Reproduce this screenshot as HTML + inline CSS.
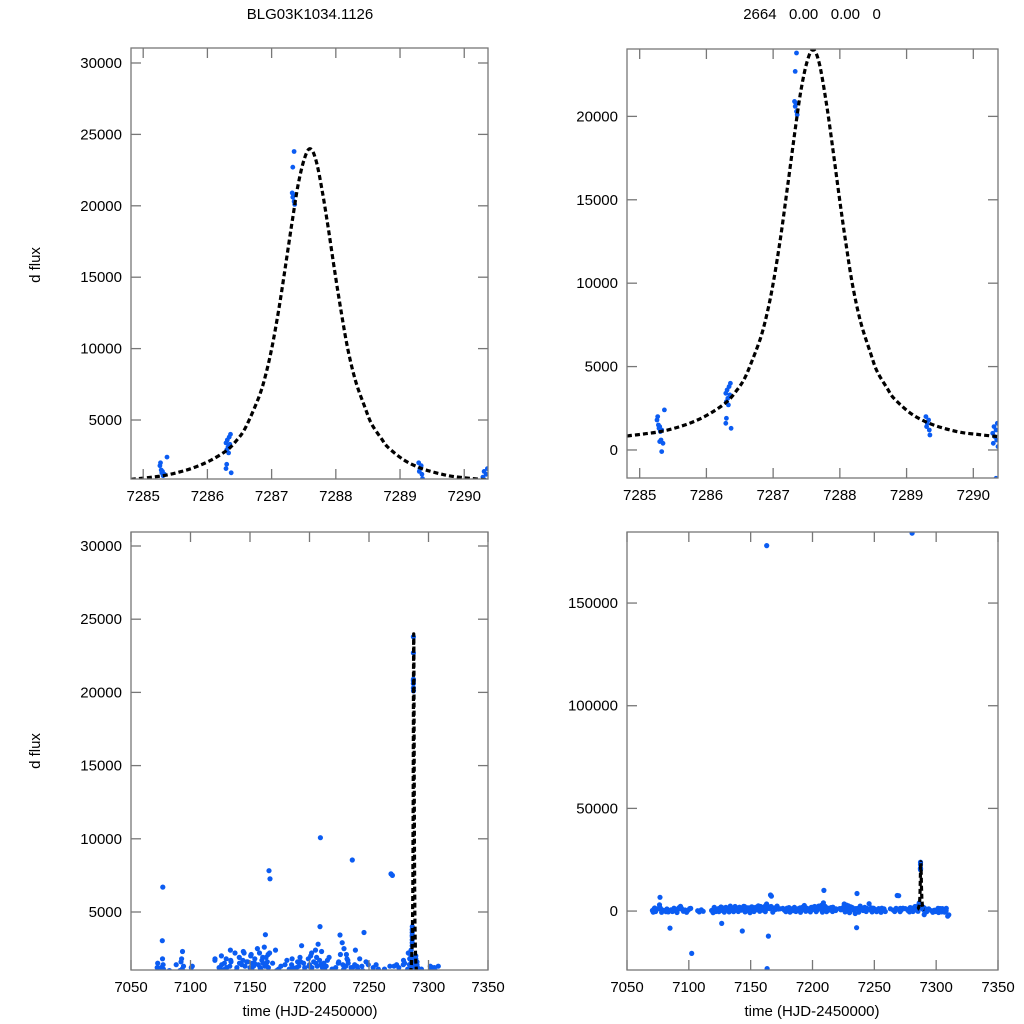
<!DOCTYPE html>
<html><head><meta charset="utf-8">
<style>
html,body{margin:0;padding:0;background:#fff;overflow:hidden;width:1024px;height:1024px;}
svg{display:block;font-family:"Liberation Sans",sans-serif;}
</style></head>
<body>
<svg id="chart" width="1024" height="1024" viewBox="0 0 1024 1024" xmlns="http://www.w3.org/2000/svg">
<text x="310" y="19" font-size="15" text-anchor="middle">BLG03K1034.1126</text>
<text x="812" y="19" font-size="15" text-anchor="middle" xml:space="preserve">2664   0.00   0.00   0</text>
<text x="0" y="0" font-size="15" text-anchor="middle" transform="translate(40,265) rotate(-90)">d flux</text>
<text x="0" y="0" font-size="15" text-anchor="middle" transform="translate(40,751) rotate(-90)">d flux</text>
<text x="310" y="1016" font-size="15" text-anchor="middle">time (HJD-2450000)</text>
<text x="812" y="1016" font-size="15" text-anchor="middle">time (HJD-2450000)</text>
</svg>
<script>
// ---- data: peak-zoom photometry ----
const peakTimes = [7285.37,7285.27,7285.26,7285.28,7285.30,7285.29,7285.33,7285.31,7285.32,7285.30,7285.35,7285.33,
 7286.36,7286.34,7286.31,7286.29,7286.35,7286.32,7286.30,7286.33,7286.30,7286.29,7286.37,
 7287.35,7287.33,7287.32,7287.34,7287.33,7287.35,7287.36,
 7289.29,7289.33,7289.31,7289.30,7289.34,7289.35,
 7290.36,7290.31,7290.34,7290.29,7290.32,7290.35,7290.30,7290.37,7290.34];
const peakFlux = [2400,2000,1800,1500,1400,1300,1200,1100,600,500,400,-100,
 4000,3800,3600,3400,3300,3100,2900,2700,1900,1600,1300,
 23800,22700,20900,20800,20600,20300,20100,
 2000,1800,1600,1400,1200,900,
 1600,1400,1200,1000,800,600,400,200,-1700];
// ---- data: full season photometry ----
const seasonTimes = [7070.5,7071.2,7072.4,7073.1,7074.0,7075.3,7076.3,7076.7,7077.2,7078.0,7079.1,7080.2,7081.5,7082.3,7083.4,7084.8,7085.6,7086.7,7088.0,7089.2,7090.4,7091.2,7092.5,7093.3,7094.1,7095.6,7097.0,7098.2,7099.5,7100.7,7102.3,
 7107.2,7108.5,7110.1,7111.6,
 7118.4,7119.6,7120.6,7121.8,7123.0,7124.3,7125.5,7126.2,7126.6,7127.5,7128.7,7130.4,7131.3,7132.6,7133.8,7135.0,7136.2,7137.4,7138.6,7140.0,7141.2,7142.4,7143.2,7144.4,7145.5,7146.6,7147.2,7148.3,7149.5,7150.6,7151.4,7152.7,7153.8,7155.0,7156.2,7157.3,7158.5,7159.6,7160.7,7161.8,7162.9,7163.0,7163.3,7164.0,7164.3,7165.2,7166.0,7166.8,7167.9,7169.0,7170.2,7171.4,7172.4,
 7177.3,7178.5,7179.4,7180.6,7181.8,7183.0,7184.2,7185.4,7186.6,7187.8,7189.2,7190.3,7191.5,7192.6,7193.4,7194.6,7195.8,7197.0,7198.3,7199.5,7200.6,7201.8,7203.0,7204.2,7205.3,7206.0,7207.2,7208.0,7208.8,7209.2,7209.5,7210.2,7211.4,7212.6,7213.8,7215.0,7216.2,7217.4,7218.8,
 7223.0,7224.2,7225.6,7226.4,7227.5,7228.7,7229.9,7231.0,7232.2,7233.3,7234.5,7235.7,7236.0,7236.2,7237.4,7238.6,7239.8,7241.0,7242.2,7243.4,7244.6,7245.8,7247.0,7248.2,7249.4,7250.6,7251.8,7253.0,7254.2,7255.4,7256.6,7257.8,7258.9,
 7265.3,7266.5,7267.6,7268.5,7269.0,7269.7,7270.8,7272.0,7273.2,
 7277.2,7278.4,7278.8,7279.6,7280.5,7281.3,7282.5,7283.6,7284.2,
 7291.3,7292.4,7296.2,7297.3,7298.5,7299.6,7300.8,7302.0,7302.6,7303.2,7304.4,7305.6,7306.8,7308.0,7308.2,7309.3,7310.2];
const seasonFlux = [300,-500,1500,-200,800,1200,3040,6700,1100,-600,400,200,-300,1000,-400,-8300,600,-200,1400,300,-700,1000,1800,2300,1300,-100,500,-600,400,1200,-20600,
 200,-400,600,-100,
 300,-800,1800,-200,600,-300,1100,1400,-6000,200,-500,1200,900,-400,1700,600,-300,2200,1000,-200,1500,400,-9700,2300,-400,900,1600,300,-800,2000,1100,-200,1500,700,2500,-100,1200,400,1900,-300,3450,178000,-28000,1300,-12200,2100,7820,7270,-500,1500,800,2400,1000,
 400,-300,1400,600,-500,1100,200,1800,-200,900,1200,-600,500,1600,2700,-100,1000,400,-400,1300,800,2200,-300,600,1500,1900,2800,-500,4000,10075,1400,2300,-300,1100,500,1700,-200,900,300,
 600,1500,3430,-400,2900,1100,-800,2100,1700,400,-1200,-8100,8550,1200,-500,2400,1300,300,1800,-200,1000,3600,500,-400,1400,700,-300,900,200,-600,500,1100,-200,
 400,-200,1300,7600,900,7500,-300,600,1400,
 300,-400,1400,800,184000,-200,1100,600,1800,
 500,-300,200,-600,400,-200,300,-700,1100,1200,-400,1000,-500,200,1300,-2500,-1800];
// additional season observations (dense baseline scatter)
const extraTimes = [7072.0,7076.5,7077.0,7092.0,7093.0,7101.5,7120.5,7124.0,7126.0,7128.5,7129.0,7130.0,7133.0,7133.5,7134.0,7139.0,7141.0,7143.0,7144.0,7145.0,7145.8,7148.0,7150.0,7151.0,7152.0,7153.0,7154.0,7157.0,7158.0,7159.0,7160.0,7161.0,7162.0,7162.5,7163.5,7164.5,7165.5,7166.5,
 7174.0,7176.0,7181.0,7185.0,7186.0,7188.0,7190.0,7191.0,7192.0,7195.0,7196.0,7199.0,7200.0,7201.0,7202.0,7203.5,7205.0,7206.5,7208.5,7210.8,7212.0,7214.0,7216.5,7219.0,7222.0,7224.5,7226.0,7228.0,7229.0,7230.5,7231.5,7232.5,7235.0,7238.0,7240.5,7244.0,7247.5,7253.5,7256.0,
 7263.0,7271.0,7275.0,7279.0,7280.0,7283.0,7284.0,7290.8,7294.0,7301.5,7303.8,7305.0];
const extraFlux = [1200,1800,1400,1600,1100,1300,1700,1200,2000,1500,1100,1800,1300,2400,1600,1200,1900,1400,1700,2200,1300,1600,1200,2100,1500,1300,1800,1400,2200,1100,1700,1500,2600,1300,1900,1600,1200,2200,
 1100,1300,1700,1400,1200,1100,1600,1300,1900,1500,1200,1800,1400,2000,1200,1600,2400,1300,1700,1200,1500,1300,1900,1100,1200,1600,2100,1400,2500,1300,1800,1500,1200,1400,1100,1300,1600,1200,1400,
 1100,1300,1200,1700,1500,2200,1400,1200,1100,1300,1100,1200];
// ---- data: model curve ----
const modelTimes = [7284.81,7285.06,7285.31,7285.56,7285.81,7286.06,7286.31,7286.46,7286.56,7286.66,7286.81,7286.91,7287.01,7287.11,7287.21,7287.31,7287.41,7287.51,7287.60,7287.69,7287.79,7287.89,7287.99,7288.09,7288.19,7288.31,7288.46,7288.56,7288.71,7288.81,7289.06,7289.31,7289.56,7289.81,7290.09,7290.37];
const modelFlux = [840,960,1100,1350,1700,2200,2900,3600,4200,5100,6700,8200,10200,12700,15600,18600,21400,23300,24000,23200,21000,18200,15200,12400,9900,7700,5800,4700,3700,3100,2200,1650,1300,1060,920,800];
// ---- tick labels ----
const peakXTicks = [7285,7286,7287,7288,7289,7290];
const seasonXTicks = [7050,7100,7150,7200,7250,7300,7350];
const tlYTicks = [5000,10000,15000,20000,25000,30000];
const trYTicks = [0,5000,10000,15000,20000];
const blYTicks = [5000,10000,15000,20000,25000,30000];
const brYTicks = [0,50000,100000,150000];

const NS='http://www.w3.org/2000/svg';
const svg=document.getElementById('chart');
function mk(tag,attrs,parent){const e=document.createElementNS(NS,tag);for(const k in attrs)e.setAttribute(k,attrs[k]);(parent||svg).appendChild(e);return e;}

function smoothPath(p){
  let d='M'+p[0][0].toFixed(1)+','+p[0][1].toFixed(1);
  for(let i=0;i<p.length-1;i++){
    const p0=p[Math.max(0,i-1)],p1=p[i],p2=p[i+1],p3=p[Math.min(p.length-1,i+2)];
    const c1x=p1[0]+(p2[0]-p0[0])/6,c1y=p1[1]+(p2[1]-p0[1])/6;
    const c2x=p2[0]-(p3[0]-p1[0])/6,c2y=p2[1]-(p3[1]-p1[1])/6;
    d+='C'+c1x.toFixed(1)+','+c1y.toFixed(1)+' '+c2x.toFixed(1)+','+c2y.toFixed(1)+' '+p2[0].toFixed(1)+','+p2[1].toFixed(1);
  }
  return d;
}

function panel(id,box,xd,yd,xt,yt,times,flux,r){
  const [x0,y0,x1,y1]=box;
  const sx=v=>x0+(v-xd[0])/(xd[1]-xd[0])*(x1-x0);
  const sy=v=>y1-(v-yd[0])/(yd[1]-yd[0])*(y1-y0);
  const g=mk('g',{});
  
  
  const cp=mk('clipPath',{id:'clip-'+id},g);
  mk('rect',{x:x0,y:y0,width:x1-x0,height:y1-y0},cp);
  const pts=mk('g',{'clip-path':'url(#clip-'+id+')'},g);
  
  
  for(let i=0;i<times.length;i++){
    const c=mk('circle',{cx:sx(times[i]).toFixed(1),cy:sy(flux[i]).toFixed(1),r:r,fill:'#0b5cf2'},pts);
    
    
  }
  const mp=modelTimes.map((t,i)=>[sx(t),sy(modelFlux[i])]);
  const ln=mk('path',{d:smoothPath(mp),fill:'none',stroke:'#000','stroke-width':3.2,'stroke-dasharray':'5 3','clip-path':'url(#clip-'+id+')'},g);
  
  
  const fr=mk('rect',{x:x0,y:y0,width:x1-x0,height:y1-y0,fill:'none',stroke:'#777','stroke-width':1.3},g);
  
  
  xt.forEach(v=>{
    const x=sx(v);
    mk('line',{x1:x,x2:x,y1:y1,y2:y1-10,stroke:'#777','stroke-width':1.3},g);
    mk('line',{x1:x,x2:x,y1:y0,y2:y0+10,stroke:'#777','stroke-width':1.3},g);
    const t=mk('text',{x:x,y:y1+22,'font-size':15,'text-anchor':'middle'},g);
    t.textContent=v;
    
    
  });
  yt.forEach(v=>{
    const y=sy(v);
    mk('line',{x1:x0,x2:x0+10,y1:y,y2:y,stroke:'#777','stroke-width':1.3},g);
    mk('line',{x1:x1,x2:x1-10,y1:y,y2:y,stroke:'#777','stroke-width':1.3},g);
    const t=mk('text',{x:x0-9,y:y+5,'font-size':15,'text-anchor':'end'},g);
    t.textContent=v;
    
    
  });
}
const allT=seasonTimes.concat(extraTimes,peakTimes), allF=seasonFlux.concat(extraFlux,peakFlux);
panel('top-left',[131,48,488,479],[7284.81,7290.37],[869,31050],peakXTicks,tlYTicks,peakTimes,peakFlux,2.4);
panel('top-right',[627,49,998,478],[7284.81,7290.37],[-1680,24040],peakXTicks,trYTicks,peakTimes,peakFlux,2.4);
panel('bottom-left',[131,532,488,970],[7050,7350],[1038,30956],seasonXTicks,blYTicks,allT,allF,2.6);
panel('bottom-right',[627,532,998,970],[7050,7350],[-28700,184600],seasonXTicks,brYTicks,allT,allF,2.6);
</script>
</body></html>
